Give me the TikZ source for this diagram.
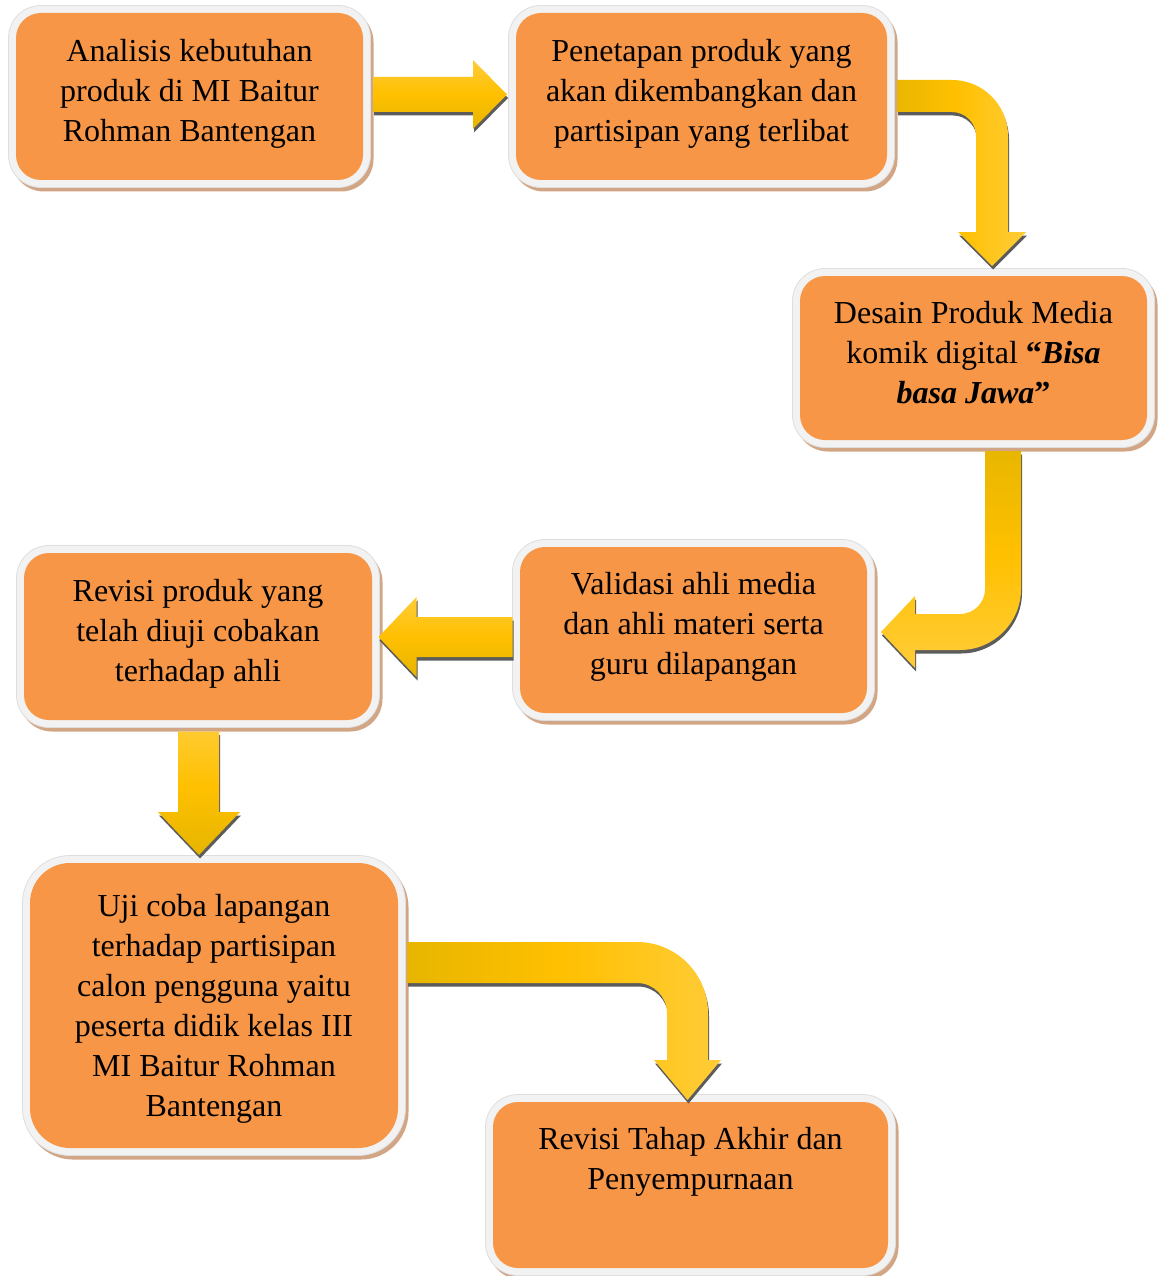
\documentclass[tikz,border=0pt]{standalone}
\usepackage{fontspec}
\setmainfont{Liberation Serif}
\usetikzlibrary{calc}
\definecolor{boxorange}{RGB}{247,150,70}
\definecolor{framegray}{RGB}{242,242,242}
\definecolor{frameedge}{RGB}{222,222,222}
\definecolor{shadowtan}{RGB}{210,166,132}
\definecolor{goldlight}{RGB}{255,204,56}
\definecolor{gold}{RGB}{255,192,0}
\definecolor{golddark}{RGB}{230,181,0}
\definecolor{shadowgray}{RGB}{92,92,92}
\tikzset{
  boxstyle/.style={fill=boxorange, draw=none, inner sep=0pt, outer sep=0pt},
  txtstyle/.style={inner sep=0pt, outer sep=0pt, align=center, font=\fontsize{32}{40}\selectfont},
  ashadow/.style={preaction={fill=shadowgray, transform canvas={shift={(1pt,-3.5pt)}}}},
  goldH/.style={ashadow, left color=golddark, right color=goldlight, middle color=gold},
  goldDL/.style={ashadow, top color=golddark, bottom color=goldlight, middle color=gold},
  goldLD/.style={ashadow, top color=goldlight, bottom color=golddark, middle color=gold}
}
% #1 name, #2 x1, #3 y1, #4 x2, #5 y2 (orange area), #6 radius, #7 baseline offset, #8 text
\newcommand\flowbox[8]{%
  \pgfmathsetmacro\rin{#6}\pgfmathsetmacro\rout{#6+7.5}%
  \fill[shadowtan, rounded corners=\rout pt] (#2-4.5,#3-3.5) rectangle (#4+10.5,#5+11.5);
  \filldraw[fill=framegray, draw=frameedge, line width=0.8pt, rounded corners=\rout pt] (#2-7.5,#3-7.5) rectangle (#4+7.5,#5+7.5);
  \node[boxstyle, rounded corners=\rin pt, minimum width=#4-#2, minimum height=#5-#3] (#1) at ({(#2+#4)/2},{(#3+#5)/2}) {};
  \node[txtstyle, anchor=north] (#1t) at ({(#2+#4)/2},#3+#7-26.5) {\strut #8};
}
\begin{document}
\begin{tikzpicture}[x=1pt,y=-1pt]
\useasboundingbox (0,0) rectangle (1157,1276);
\fill[white] (0,0) rectangle (1157,1276);

\flowbox{b1}{16}{13}{363}{180}{25}{47}{Analisis kebutuhan\\produk di MI Baitur\\Rohman Bantengan}
\flowbox{b2}{516}{13}{887}{180}{25}{47}{Penetapan produk yang\\akan dikembangkan dan\\partisipan yang terlibat}
\flowbox{b3}{800}{276}{1147}{440}{25}{46}{Desain Produk Media\\komik digital \textbf{“\textit{Bisa}}\\\textbf{\textit{basa Jawa}”}}
\flowbox{b4}{520}{547}{867}{713}{25}{46}{Validasi ahli media\\dan ahli materi serta\\guru dilapangan}
\flowbox{b5}{24}{553}{372}{720}{25}{47}{Revisi produk yang\\telah diuji cobakan\\terhadap ahli}
\flowbox{b6}{30}{863}{398}{1148}{40}{52}{Uji coba lapangan\\terhadap partisipan\\calon pengguna yaitu\\peserta didik kelas III\\MI Baitur Rohman\\Bantengan}
\flowbox{b7}{493}{1102}{888}{1268}{25}{46}{Revisi Tahap Akhir dan\\Penyempurnaan}

% arrow 1: b1 -> b2
\path[goldLD] (b1.east) ++(10,-19.5) -- ++(100,0) -- ++(0,-17) -- ++(34,34.5)
  -- ++(-34,34.5) -- ++(0,-17) -- ++(-100,0) -- cycle;
% arrow 2: b2 -> b3
\path[goldH] (b2.east) ++(10,-16.5) -- ++(55,0) arc (-90:0:56) -- ++(0,96) -- ++(18,0)
  -- ++(-34,34) -- ++(-34,-34) -- ++(18,0) -- ++(0,-96) arc (0:-90:24) -- ++(-55,0) -- cycle;
% arrow 3: b3 -> b4
\path[goldDL] (b3.south) ++(11.5,11) -- ++(36,0) -- ++(0,138) arc (0:90:61) -- ++(-45,0)
  -- ++(0,18) -- ++(-34,-36) -- ++(34,-36) -- ++(0,18) -- ++(45,0) arc (90:0:25) -- cycle;
% arrow 4: b4 -> b5
\path[goldLD] (b4.west) ++(-7.5,-13) -- ++(-96,0) -- ++(0,-20) -- ++(-38,40) -- ++(38,40)
  -- ++(0,-20) -- ++(96,0) -- cycle;
% arrow 5: b5 -> b6
\path[goldLD] (b5.south) ++(-20,11.5) -- ++(41,0) -- ++(0,80.5) -- ++(21,0) -- ++(-41,43)
  -- ++(-41,-43) -- ++(20,0) -- cycle;
% arrow 6: b6 -> b7
\path[goldH] (b6.east) ++(9,-63.5) -- ++(230,0) arc (-90:0:71) -- ++(0,47) -- ++(13,0)
  -- ++(-33.5,40) -- ++(-33.5,-40) -- ++(13,0) -- ++(0,-47) arc (0:-90:30) -- ++(-230,0) -- cycle;
\end{tikzpicture}
\end{document}
